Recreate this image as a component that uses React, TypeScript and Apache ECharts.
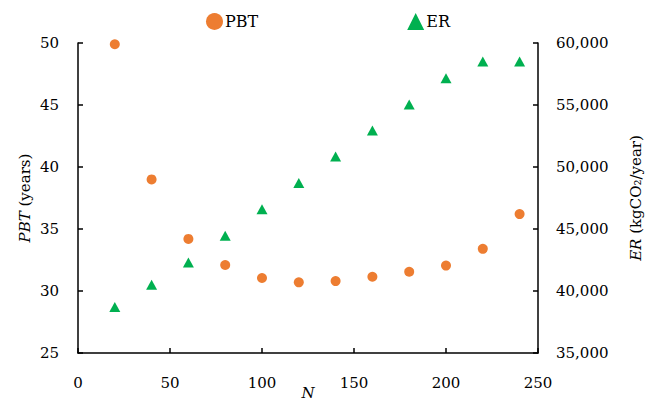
import React, { useEffect, useRef } from "react";
import * as echarts from "echarts";

const nValues = [20, 40, 60, 80, 100, 120, 140, 160, 180, 200, 220, 240];
const pbtValues = [49.9, 39.0, 34.2, 32.1, 31.05, 30.7, 30.8, 31.15, 31.55, 32.05, 33.4, 36.2];
const erValues = [38700, 40500, 42300, 44450, 46600, 48700, 50850, 52950, 55050, 57150, 58500, 58500];

const FONT = "DejaVu Serif";
const ORANGE = "#ED7D31";
const GREEN = "#00B050";

export default function App() {
  const ref = useRef<HTMLDivElement>(null);
  useEffect(() => {
    document.body.style.margin = "0";
    const chart = echarts.init(ref.current!, null, { renderer: "svg" });
    const axisLine = { show: true, lineStyle: { color: "#000", width: 1.5 } };
    const axisTick = { show: true, inside: true, length: 5, lineStyle: { color: "#000", width: 1.5 } };
    chart.setOption({
      animation: false,
      backgroundColor: "#fff",
      textStyle: { fontFamily: FONT },
      grid: { left: 78, right: 116, top: 43, bottom: 50, outerBoundsMode: "none", containLabel: false },
      legend: {
        data: [
          { name: "PBT", icon: "circle" },
          { name: "ER", icon: "triangle" },
        ],
        left: 201,
        top: 8,
        itemWidth: 17,
        itemHeight: 17,
        itemGap: 149,
        itemStyle: { opacity: 1 },
        textStyle: { fontFamily: FONT, fontSize: 16, color: "#000", padding: [0, 0, 0, -3] },
      },
      xAxis: {
        type: "value",
        min: 0,
        max: 250,
        interval: 50,
        name: "N",
        nameLocation: "middle",
        nameGap: 32,
        nameMoveOverlap: false,
        nameTextStyle: { fontFamily: FONT, fontSize: 15, fontStyle: "italic", color: "#000" },
        axisLine,
        axisTick,
        splitLine: { show: false },
        axisLabel: { fontFamily: FONT, fontSize: 15, color: "#000", margin: 22 },
      },
      yAxis: [
        {
          type: "value",
          min: 25,
          max: 50,
          interval: 5,
          position: "left",
          name: "{i|PBT} (years)",
          nameLocation: "middle",
          nameGap: 46,
          nameMoveOverlap: false,
          nameTextStyle: {
            fontFamily: FONT,
            fontSize: 15,
            color: "#000",
            rich: { i: { fontFamily: FONT, fontSize: 15, fontStyle: "italic", color: "#000" } },
          },
          axisLine,
          axisTick,
          splitLine: { show: false },
          axisLabel: { fontFamily: FONT, fontSize: 15, color: "#000", margin: 19 },
        },
        {
          type: "value",
          min: 35000,
          max: 60000,
          interval: 5000,
          position: "right",
          name: "{i|ER} (kgCO\u2082/year)",
          nameLocation: "middle",
          nameGap: 90,
          nameMoveOverlap: false,
          nameTextStyle: {
            fontFamily: FONT,
            fontSize: 15,
            color: "#000",
            rich: { i: { fontFamily: FONT, fontSize: 15, fontStyle: "italic", color: "#000" } },
          },
          axisLine,
          axisTick,
          splitLine: { show: false },
          axisLabel: {
            fontFamily: FONT,
            fontSize: 15,
            color: "#000",
            margin: 18,
            formatter: (v: number) => v.toLocaleString("en-US"),
          },
        },
      ],
      series: [
        {
          name: "PBT",
          type: "scatter",
          yAxisIndex: 0,
          symbol: "circle",
          symbolSize: 10,
          itemStyle: { color: ORANGE, opacity: 1 },
          data: nValues.map((n, i) => [n, pbtValues[i]]),
        },
        {
          name: "ER",
          type: "scatter",
          yAxisIndex: 1,
          symbol: "triangle",
          symbolSize: [11, 10],
          itemStyle: { color: GREEN, opacity: 1 },
          data: nValues.map((n, i) => [n, erValues[i]]),
        },
      ],
    });
    return () => chart.dispose();
  }, []);
  return (
    <div
      ref={ref}
      style={{ position: "absolute", left: 0, top: 0, width: 654, height: 403 }}
    />
  );
}
